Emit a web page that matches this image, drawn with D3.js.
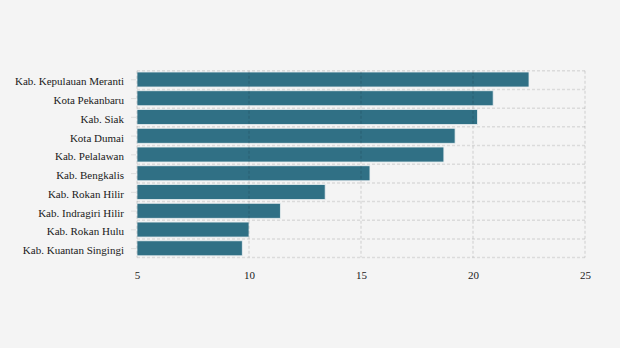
<!DOCTYPE html>
<html><head><meta charset="utf-8">
<script src="https://cdn.jsdelivr.net/npm/d3@7"></script>
<style>body{margin:0;background:#f4f4f4;}svg{display:block;}</style>
</head><body>
<svg id="c" width="620" height="348"></svg>
<script>
const categories = ["Kab. Kepulauan Meranti","Kota Pekanbaru","Kab. Siak","Kota Dumai","Kab. Pelalawan","Kab. Bengkalis","Kab. Rokan Hilir","Kab. Indragiri Hilir","Kab. Rokan Hulu","Kab. Kuantan Singingi"];
const values = [22.5, 20.9, 20.2, 19.2, 18.7, 15.4, 13.4, 11.4, 10.0, 9.7];
const xTicks = [5, 10, 15, 20, 25];

const svg = d3.select("#c");
svg.append("rect").attr("width",620).attr("height",348).attr("fill","#f4f4f4");
const m = {left:137, right:585, top:70.8, bottom:257.6};
const x = d3.scaleLinear().domain([5,25]).range([m.left, m.right]);
const y = d3.scaleBand().domain(categories).range([m.top, m.bottom]).paddingInner(0.2).paddingOuter(0.08);
const font = "'Liberation Serif','Times New Roman',serif";

// bars
svg.append("g").selectAll("rect").data(categories).join("rect")
  .attr("x", x(5)).attr("y", d => y(d) - 0.3)
  .attr("width", (d,i) => x(values[i]) - x(5))
  .attr("height", y.bandwidth())
  .attr("fill", "#307085").attr("stroke","#e8eef0").attr("stroke-width",0.8);

// grid on top
const grid = svg.append("g").attr("stroke","#000").attr("stroke-opacity",0.1).attr("stroke-width",1.5).attr("stroke-dasharray","3,2").attr("fill","none");
xTicks.forEach(t => grid.append("line").attr("x1",x(t)).attr("x2",x(t)).attr("y1",m.top).attr("y2",m.bottom));
const step = (m.bottom - m.top)/categories.length;
d3.range(categories.length+1).forEach(i => {
  const yy = m.top + i*step;
  grid.append("line").attr("x1",m.left).attr("x2",m.right).attr("y1",yy).attr("y2",yy);
});

// y axis
const yAxis = svg.append("g").attr("transform",`translate(${m.left - 1},0)`)
  .call(d3.axisLeft(y).tickSize(5).tickPadding(7));
yAxis.select(".domain").remove();
yAxis.selectAll("line").attr("stroke","#ddd");
yAxis.selectAll("text").attr("font-family",font).attr("font-size",11).attr("fill","#1a1a1a").attr("dy","0.5em");

// x axis
const xAxis = svg.append("g").attr("transform",`translate(0,${m.bottom})`)
  .call(d3.axisBottom(x).tickValues(xTicks).tickSize(0).tickPadding(14));
xAxis.select(".domain").remove();
xAxis.selectAll("text").attr("font-family",font).attr("font-size",11).attr("fill","#1a1a1a");
</script>
</body></html>
